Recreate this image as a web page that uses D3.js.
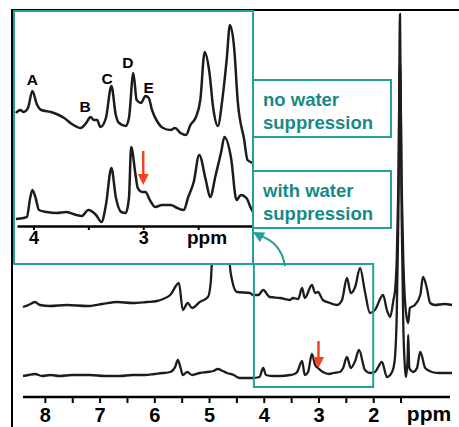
<!DOCTYPE html>
<html>
<head>
<meta charset="utf-8">
<script src="https://cdn.jsdelivr.net/npm/d3@7"></script>
<style>
  body { margin: 0; background: #fff; }
  svg { display: block; font-family: 'Liberation Sans', Arial, sans-serif; }
</style>
</head>
<body>
<div id="chart"></div>
<script>
// chemical shift ticks (ppm)
const mainTicks = [8, 7.5, 7, 6.5, 6, 5.5, 5, 4.5, 4, 3.5, 3, 2.5, 2, 1.5];
const insetTicks = [4, 3.5, 3, 2.5];

// full spectra, [ppm, intensity]
const noSuppression = [
  [8.40,-2],[8.30,0],[8.18,3],[8.09,0],[7.91,-1],[7.60,0],[7.23,-1],[6.95,1],[6.68,3],[6.40,2],
  [6.14,3],[5.95,4],[5.84,6],[5.71,10],[5.55,22],[5.48,-5],[5.39,2],[5.31,-3],[5.17,3],[5.02,8],
  [4.97,22],[4.93,65],[4.86,140],[4.77,170],[4.68,130],[4.62,40],[4.58,25],[4.49,13],[4.25,12],
  [4.20,10],[4.10,10],[4.01,15],[3.89,8],[3.70,7],[3.52,5],[3.47,7],[3.37,6],[3.30,17],[3.25,7],
  [3.12,20],[3.06,12],[3.01,13],[2.92,5],[2.79,2],[2.66,0],[2.57,5],[2.48,27],[2.41,12],[2.33,18],
  [2.24,37],[2.15,13],[2.06,-8],[1.97,-5],[1.82,10],[1.75,-5],[1.69,-12],[1.63,5],[1.60,15],
  [1.57,45],[1.54,120],[1.51,245],[1.48,120],[1.45,45],[1.42,5],[1.39,-12],[1.36,-18],[1.33,-3],
  [1.24,0],[1.14,10],[1.09,28],[1.02,17],[0.96,2],[0.87,0],[0.70,1],[0.56,0]
];
const withSuppression = [
  [8.40,0],[8.30,1],[8.18,2],[8.05,0],[7.90,1],[7.73,0],[7.50,1],[7.18,1],[6.90,0],[6.63,0],
  [6.40,1],[6.17,1],[6.00,2],[5.84,3],[5.71,4],[5.62,9],[5.57,16],[5.52,8],[5.48,1],[5.40,4],
  [5.31,1],[5.17,3],[5.04,4],[4.92,5],[4.84,7],[4.75,5],[4.67,3],[4.55,1],[4.44,-2],[4.20,-2],
  [4.08,-1],[4.01,8],[3.96,1],[3.85,0],[3.70,0],[3.52,1],[3.44,2],[3.39,4],[3.30,15],[3.25,1],
  [3.19,4],[3.12,22],[3.06,11],[3.01,8],[2.92,4],[2.80,2],[2.73,3],[2.61,4],[2.55,8],[2.48,19],
  [2.41,8],[2.33,15],[2.26,26],[2.15,6],[2.06,3],[1.97,4],[1.84,14],[1.75,-1],[1.69,1],[1.63,8],
  [1.60,20],[1.57,60],[1.54,160],[1.51,362],[1.48,160],[1.45,50],[1.42,8],[1.40,-1],[1.37,20],
  [1.36,41],[1.34,8],[1.30,5],[1.27,4],[1.20,8],[1.14,24],[1.05,8],[0.93,4],[0.80,3],[0.56,3]
];

// expanded 2-4 ppm region, [ppm, intensity]
const insetNoSuppression = [
  [4.16,17],[4.12,20],[4.09,18],[4.05,22],[4.01,39],[3.97,26],[3.93,20],[3.84,18],[3.79,16],
  [3.72,12],[3.65,6],[3.57,2],[3.52,7],[3.48,13],[3.45,10],[3.42,10],[3.39,3],[3.34,12],[3.29,44],
  [3.25,15],[3.22,7],[3.16,4],[3.13,12],[3.09,57],[3.06,30],[3.02,27],[2.98,34],[2.95,32],[2.92,20],
  [2.87,8],[2.82,2],[2.75,0],[2.71,2],[2.66,-3],[2.61,-5],[2.57,5],[2.52,13],[2.48,30],[2.44,78],
  [2.40,60],[2.36,20],[2.32,4],[2.28,30],[2.24,70],[2.21,105],[2.17,80],[2.14,30],[2.08,-10],
  [2.05,-30],[2.00,-33]
];
const insetWithSuppression = [
  [4.16,-4],[4.09,-3],[4.06,-2],[4.03,17],[4.01,25],[3.98,17],[3.95,5],[3.88,3],[3.79,2],[3.70,3],
  [3.61,0],[3.56,-1],[3.50,5],[3.43,0],[3.38,-7],[3.34,10],[3.29,47],[3.25,18],[3.20,3],[3.16,2],
  [3.13,17],[3.11,68],[3.07,40],[3.05,27],[3.01,23],[2.98,23],[2.94,15],[2.89,8],[2.83,10],
  [2.75,10],[2.69,7],[2.63,5],[2.59,18],[2.54,33],[2.49,60],[2.43,35],[2.39,18],[2.34,40],
  [2.29,63],[2.26,78],[2.20,57],[2.15,15],[2.11,20],[2.06,17],[2.02,7],[2.00,3]
];

const peakNames = ['A', 'B', 'C', 'D', 'E'];
const peakPpm = [4.01, 3.53, 3.33, 3.14, 2.95];
const peakLevel = [45, 18, 46, 62, 37];

const markerPpm = 3.0;
const legendLines = [['no water', 'suppression'], ['with water', 'suppression']];

const width = 459;
const height = 427;
const teal = '#24a09b';
const tealText = '#178a85';
const red = '#f4431f';
const ink = '#1c1c1c';

const svg = d3.select('#chart')
  .append('svg')
  .attr('width', width)
  .attr('height', height);

// main scales
const x = d3.scaleLinear().domain([8.4, 0.56]).range([23, 452]);
const yTop = d3.scaleLinear().domain([0, 100]).range([305, 205]);
const yBottom = d3.scaleLinear().domain([0, 100]).range([376, 276]);

// inset scales
const ix = d3.scaleLinear().domain([4.15, 2.0]).range([17, 253]);
const iyTop = d3.scaleLinear().domain([0, 100]).range([130, 30]);
const iyBottom = d3.scaleLinear().domain([0, 100]).range([215, 115]);

const trace = (sx, sy) => d3.line()
  .x(d => sx(d[0]))
  .y(d => sy(d[1]))
  .curve(d3.curveMonotoneX);

// frame
svg.append('path')
  .attr('d', `M12,${height} V10 H${width}`)
  .attr('fill', 'none')
  .attr('stroke', '#000')
  .attr('stroke-width', 2);

// main spectra
[[noSuppression, yTop], [withSuppression, yBottom]].forEach(([data, sy]) => {
  svg.append('path')
    .datum(data)
    .attr('d', trace(x, sy))
    .attr('fill', 'none')
    .attr('stroke', ink)
    .attr('stroke-width', 2.3)
    .attr('stroke-linejoin', 'round');
});

// main axis
const xAxis = d3.axisBottom(x)
  .tickValues(mainTicks)
  .tickSize(6)
  .tickSizeOuter(0)
  .tickPadding(5)
  .tickFormat(d => Number.isInteger(d) ? d : '');

const gx = svg.append('g')
  .attr('transform', 'translate(0, 397)')
  .call(xAxis);
gx.select('.domain').attr('stroke-width', 2.5).attr('d', 'M23,0H450');
gx.selectAll('.tick line').attr('stroke-width', 2);
gx.selectAll('.tick text')
  .attr('font-size', 20)
  .attr('font-weight', 'bold')
  .attr('font-family', "'Liberation Sans', Arial, sans-serif")
  .attr('fill', '#000');

svg.append('text')
  .attr('x', 429)
  .attr('y', 421)
  .attr('text-anchor', 'middle')
  .attr('font-size', 21)
  .attr('font-weight', 'bold')
  .text('ppm');

// zoom region on main spectra
svg.append('rect')
  .attr('x', x(4.18))
  .attr('y', 264)
  .attr('width', x(2.0) - x(4.18))
  .attr('height', 123)
  .attr('fill', 'none')
  .attr('stroke', teal)
  .attr('stroke-width', 2);

// red marker
function downArrow(g, cx, top, bottom) {
  g.append('line')
    .attr('x1', cx).attr('x2', cx)
    .attr('y1', top).attr('y2', bottom - 8)
    .attr('stroke', red)
    .attr('stroke-width', 2.5);
  g.append('path')
    .attr('d', `M${cx - 5.5},${bottom - 11} L${cx + 5.5},${bottom - 11} L${cx},${bottom} Z`)
    .attr('fill', red);
}
downArrow(svg, x(markerPpm), yBottom(35), yBottom(8));

// inset
const inset = svg.append('g');
inset.append('rect')
  .attr('x', 14).attr('y', 11)
  .attr('width', 239).attr('height', 253)
  .attr('fill', '#fff');

svg.append('clipPath')
  .attr('id', 'inset-clip')
  .append('rect')
  .attr('x', 15).attr('y', 12)
  .attr('width', 237).attr('height', 212);

[[insetNoSuppression, iyTop], [insetWithSuppression, iyBottom]].forEach(([data, sy]) => {
  inset.append('path')
    .datum(data)
    .attr('clip-path', 'url(#inset-clip)')
    .attr('d', trace(ix, sy))
    .attr('fill', 'none')
    .attr('stroke', ink)
    .attr('stroke-width', 2.5)
    .attr('stroke-linejoin', 'round');
});

const ixAxis = d3.axisBottom(ix)
  .tickValues(insetTicks)
  .tickSize(4)
  .tickSizeOuter(0)
  .tickPadding(1)
  .tickFormat(d => Number.isInteger(d) ? d : '');

const gix = inset.append('g')
  .attr('transform', 'translate(0, 226)')
  .call(ixAxis);
gix.select('.domain').attr('stroke-width', 2.5);
gix.selectAll('.tick line').attr('stroke-width', 2);
gix.selectAll('.tick text')
  .attr('font-size', 18)
  .attr('font-weight', 'bold')
  .attr('font-family', "'Liberation Sans', Arial, sans-serif")
  .attr('fill', '#000');

inset.append('text')
  .attr('x', 207)
  .attr('y', 244)
  .attr('text-anchor', 'middle')
  .attr('font-size', 19)
  .attr('font-weight', 'bold')
  .text('ppm');

inset.selectAll('.peak-label')
  .data(peakNames)
  .enter()
  .append('text')
  .attr('class', 'peak-label')
  .attr('x', (d, i) => ix(peakPpm[i]))
  .attr('y', (d, i) => iyTop(peakLevel[i]))
  .attr('text-anchor', 'middle')
  .attr('font-size', 15.5)
  .attr('font-weight', 'bold')
  .text(d => d);

downArrow(inset, ix(markerPpm), iyBottom(64), iyBottom(30));

inset.append('rect')
  .attr('x', 14).attr('y', 11)
  .attr('width', 239).attr('height', 253)
  .attr('fill', 'none')
  .attr('stroke', teal)
  .attr('stroke-width', 2);

// legend boxes
const legendTop = [80, 171];
legendLines.forEach((lines, i) => {
  const g = svg.append('g');
  g.append('rect')
    .attr('x', 253).attr('y', legendTop[i])
    .attr('width', 138).attr('height', 57)
    .attr('fill', '#fff')
    .attr('stroke', teal)
    .attr('stroke-width', 2);
  lines.forEach((t, j) => {
    g.append('text')
      .attr('x', 263)
      .attr('y', legendTop[i] + 26 + j * 22.5)
      .attr('font-size', 18.5)
      .attr('font-weight', 'bold')
      .attr('fill', tealText)
      .text(t);
  });
});

// curved pointer from zoom region to inset
const tip = [253, 232];
const ctrl = [281, 242];
const start = [285, 266];
svg.append('path')
  .attr('d', `M${start} Q${ctrl} ${tip[0] + 6},${tip[1] + 3.5}`)
  .attr('fill', 'none')
  .attr('stroke', teal)
  .attr('stroke-width', 2);
const ang = Math.atan2(tip[1] - (tip[1] + 5), tip[0] - (tip[0] + 9));
const hl = 11, hw = 5.5;
const bx = tip[0] - Math.cos(ang) * hl, by = tip[1] - Math.sin(ang) * hl;
svg.append('path')
  .attr('d', `M${tip} L${bx - Math.sin(ang) * hw},${by + Math.cos(ang) * hw} L${bx + Math.sin(ang) * hw},${by - Math.cos(ang) * hw} Z`)
  .attr('fill', teal);
</script>
</body>
</html>
